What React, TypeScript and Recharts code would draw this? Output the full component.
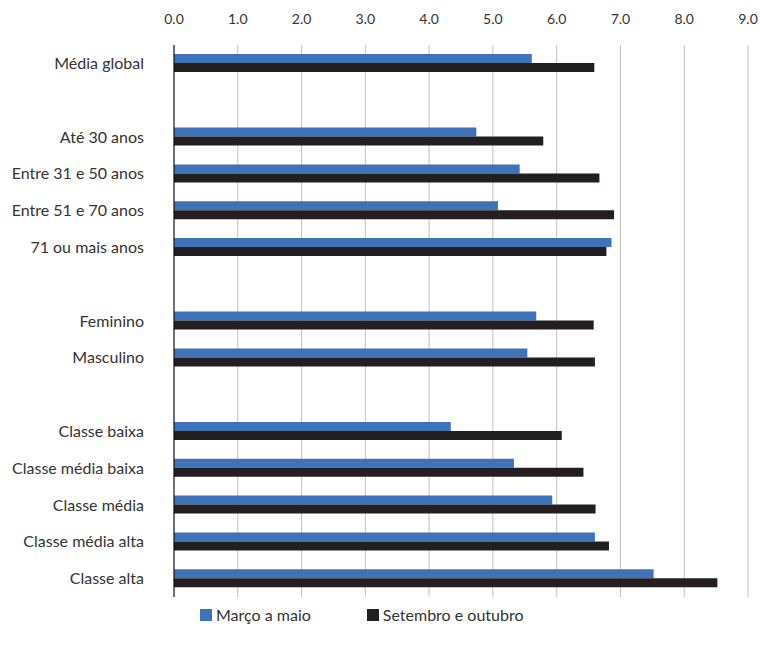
import { Bar, BarChart, CartesianGrid, Legend, XAxis, YAxis } from "recharts"

const categories = [
  "Média global",
  "",
  "Até 30 anos",
  "Entre 31 e 50 anos",
  "Entre 51 e 70 anos",
  "71 ou mais anos",
  "",
  "Feminino",
  "Masculino",
  "",
  "Classe baixa",
  "Classe média baixa",
  "Classe média",
  "Classe média alta",
  "Classe alta",
]
const marcoMaio = [5.61, null, 4.74, 5.42, 5.08, 6.86, null, 5.68, 5.54, null, 4.34, 5.33, 5.93, 6.6, 7.52]
const setembroOutubro = [6.59, null, 5.79, 6.67, 6.9, 6.78, null, 6.58, 6.6, null, 6.08, 6.42, 6.61, 6.82, 8.52]
const xTicks = [0, 1, 2, 3, 4, 5, 6, 7, 8, 9]

const BLUE = "#3f73b9"
const BLACK = "#231f20"
const FONT = "Lato, 'Open Sans', sans-serif"

const data = categories.map((label, i) => ({
  key: `row${i}`,
  label,
  marco: marcoMaio[i],
  setembro: setembroOutubro[i],
}))

const labelOf = (key: string) => data.find(d => d.key === key)?.label ?? ""

const LegendContent = () => (
  <div style={{ display: "flex", paddingLeft: 200, fontFamily: FONT, fontSize: 16, color: "#333", lineHeight: "20px" }}>
    <div style={{ display: "flex", alignItems: "center", marginRight: 56 }}>
      <span style={{ width: 12, height: 12, background: BLUE, marginRight: 4 }} />
      Março a maio
    </div>
    <div style={{ display: "flex", alignItems: "center" }}>
      <span style={{ width: 12, height: 12, background: BLACK, marginRight: 4 }} />
      Setembro e outubro
    </div>
  </div>
)

export default function App() {
  return (
    <div style={{ position: "absolute", left: 0, top: 0, background: "#fff" }}>
      <BarChart
        width={760}
        height={650}
        data={data}
        layout="vertical"
        margin={{ top: 0, right: 12, bottom: 33, left: 0 }}
        barGap={0}
      >
        <CartesianGrid horizontal={false} stroke="#c2c2c2" />
        <XAxis
          type="number"
          orientation="top"
          domain={[0, 9]}
          ticks={xTicks}
          height={45}
          axisLine={false}
          tickLine={false}
          tickSize={0}
          tickMargin={21}
          tickFormatter={(v: number) => v.toFixed(1)}
          tick={{ fill: "#333", fontSize: 14, fontFamily: FONT }}
        />
        <YAxis
          type="category"
          dataKey="key"
          width={174}
          axisLine={{ stroke: "#000" }}
          tickLine={false}
          tickMargin={24}
          tickFormatter={labelOf}
          tick={{ fill: "#333", fontSize: 16, fontFamily: FONT }}
        />
        <Legend
          verticalAlign="bottom"
          content={<LegendContent />}
          wrapperStyle={{ left: 0, width: 760, bottom: 25 }}
        />
        <Bar dataKey="marco" name="Março a maio" fill={BLUE} barSize={9} isAnimationActive={false} />
        <Bar dataKey="setembro" name="Setembro e outubro" fill={BLACK} barSize={9} isAnimationActive={false} />
      </BarChart>
    </div>
  )
}
